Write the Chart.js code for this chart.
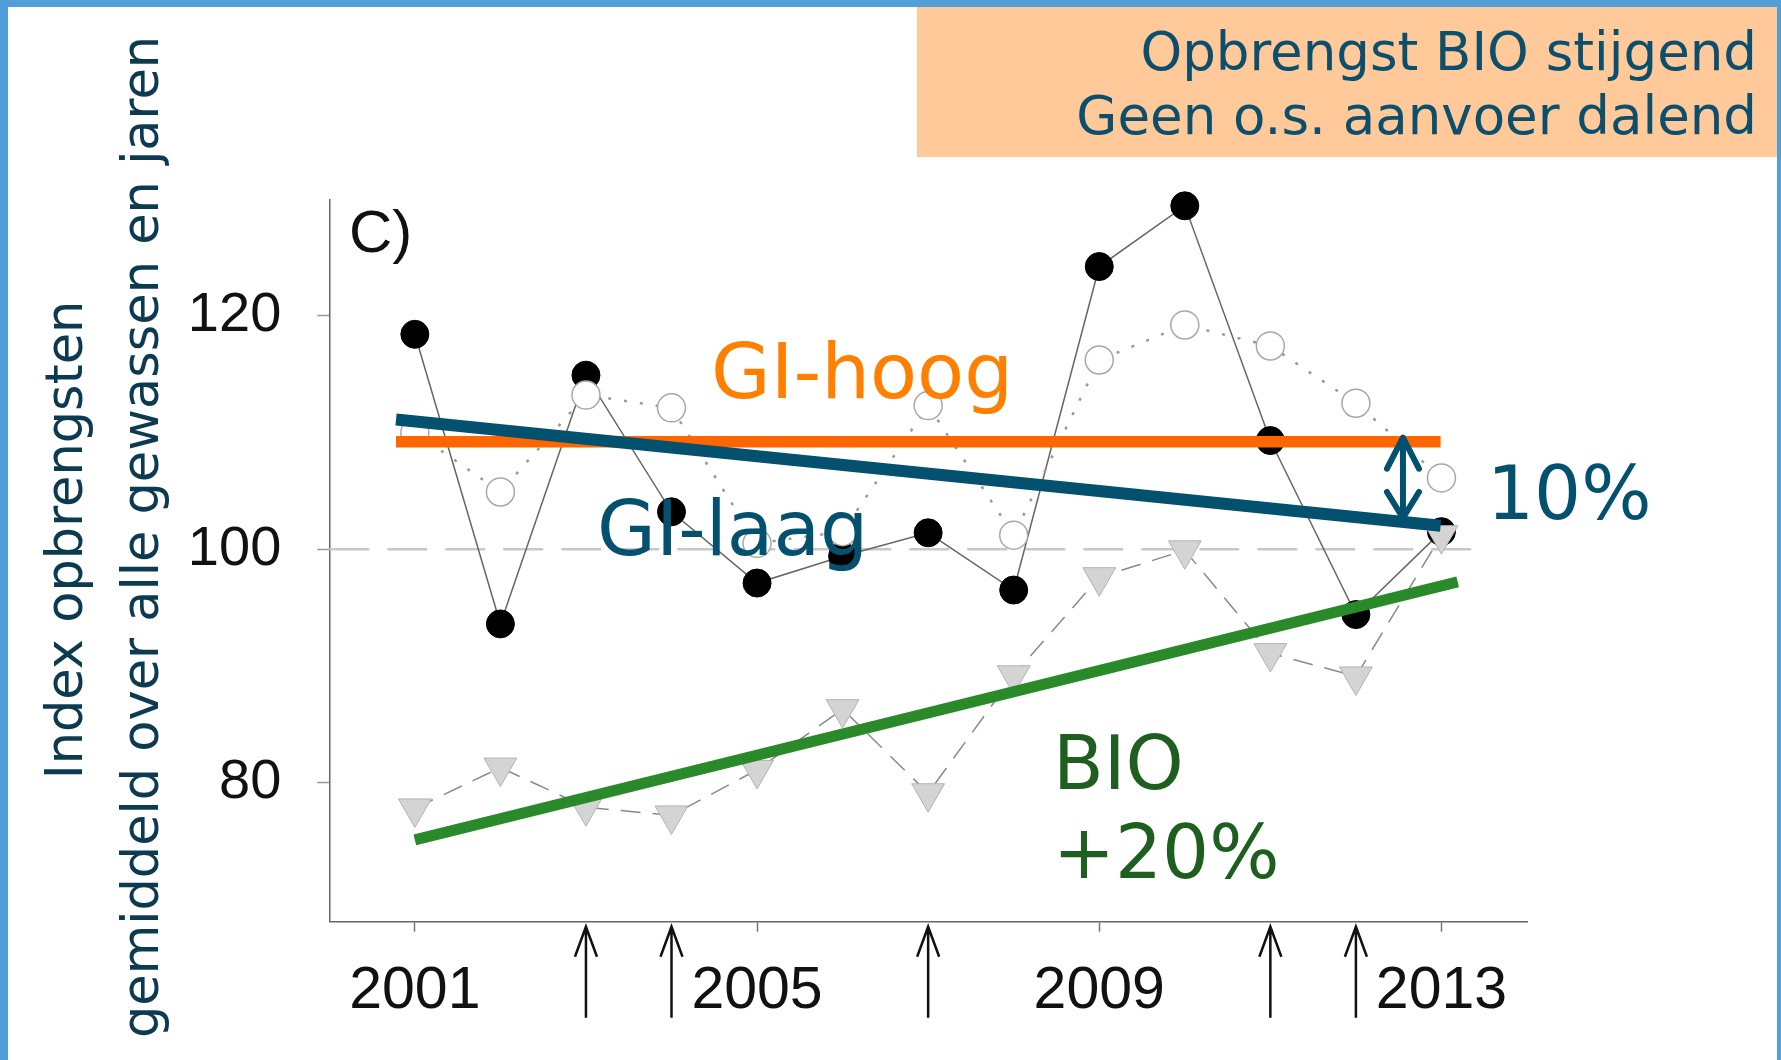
<!DOCTYPE html>
<html>
<head>
<meta charset="utf-8">
<script src="https://cdn.jsdelivr.net/npm/chart.js@4.4.0/dist/chart.umd.min.js"></script>
<style>
	html, body { margin: 0; padding: 0; background: #fff; }
	#wrap { width: 1781px; height: 1060px; position: relative; }
</style>
</head>
<body>
<div id="wrap"><canvas id="myChart"></canvas></div>
<script>
// jaren en waarden
const years = [2001, 2002, 2003, 2004, 2005, 2006, 2007, 2008, 2009, 2010, 2011, 2012, 2013];
const giHoogValues = [118.4, 93.6, 114.9, 103.2, 97.1, 99.4, 101.4, 96.5, 124.2, 129.4, 109.3, 94.4, 101.5];
const giLaagValues = [110.0, 104.9, 113.2, 112.1, 100.5, 101.5, 112.3, 101.2, 116.2, 119.2, 117.4, 112.5, 106.1];
const bioValues = [77.8, 81.3, 77.9, 77.2, 81.1, 86.3, 79.1, 89.2, 97.6, 99.9, 91.1, 89.1, 101.2];

// trendlijnen (begin- en eindpunt)
const hoogTrendX = [2000.78, 2012.99];
const hoogTrendY = [109.2, 109.2];
const laagTrendX = [2000.78, 2012.99];
const laagTrendY = [111.1, 102.0];
const bioTrendX = [2001.0, 2013.19];
const bioTrendY = [75.1, 97.2];
const refLineX = [2000, 2013.55];
const refLineY = [100, 100];

const xTicks = [2001, 2005, 2009, 2013];
const yTicks = [80, 100, 120];
const arrowYears = [2003, 2004, 2007, 2011, 2012];
const gapYear = 2012.55;

const toXY = (xs, ys) => xs.map((x, i) => ({ x, y: ys[i] }));

const decorPlugin = {
	id: "decor",
	beforeDraw(chart) {
		const c = chart.ctx;
		c.save();
		// blauwe rand
		c.fillStyle = "#509fd9";
		c.fillRect(0, 0, 1781, 7);
		c.fillRect(0, 0, 8, 1060);
		c.fillRect(1777, 0, 4, 1060);
		// oranje kader
		c.fillStyle = "#ffc999";
		c.fillRect(917, 7, 860, 150);
		c.fillStyle = "#0b4f6c";
		c.font = "53px 'DejaVu Sans'";
		c.textAlign = "right";
		c.textBaseline = "alphabetic";
		c.fillText("Opbrengst BIO stijgend", 1757, 70);
		c.fillText("Geen o.s. aanvoer dalend", 1757, 134);
		// as-titel
		c.fillStyle = "#0c3a50";
		c.font = "51px 'DejaVu Sans'";
		c.textAlign = "center";
		c.translate(82, 540);
		c.rotate(-Math.PI / 2);
		c.fillText("Index opbrengsten", 0, 0);
		c.restore();
		c.save();
		c.fillStyle = "#0c3a50";
		c.font = "51px 'DejaVu Sans'";
		c.textAlign = "center";
		c.translate(158, 537);
		c.rotate(-Math.PI / 2);
		c.fillText("gemiddeld over alle gewassen en jaren", 0, 0);
		c.restore();
	},
	afterDraw(chart) {
		const c = chart.ctx;
		const xs = chart.scales.x;
		const ys = chart.scales.y;
		c.save();
		c.fillStyle = "#111";
		c.font = "60px 'Liberation Sans'";
		c.textAlign = "left";
		c.fillText("C)", 349, 252);

		// pijlen onder de as
		c.strokeStyle = "#111";
		c.lineWidth = 2.5;
		const yb = ys.bottom;
		arrowYears.forEach((yr) => {
			const px = xs.getPixelForValue(yr);
			c.beginPath();
			c.moveTo(px, yb + 96);
			c.lineTo(px, yb + 5);
			c.moveTo(px - 11, yb + 35);
			c.lineTo(px, yb + 5);
			c.lineTo(px + 11, yb + 35);
			c.stroke();
		});

		// dubbele pijl tussen GI-hoog en GI-laag
		const ax = xs.getPixelForValue(gapYear);
		const t = (gapYear - laagTrendX[0]) / (laagTrendX[1] - laagTrendX[0]);
		const laagAt = laagTrendY[0] + t * (laagTrendY[1] - laagTrendY[0]);
		const yTop = ys.getPixelForValue(hoogTrendY[0]) - 4;
		const yBot = ys.getPixelForValue(laagAt) - 4;
		c.strokeStyle = "#03506f";
		c.lineWidth = 6;
		c.lineCap = "round";
		c.lineJoin = "round";
		c.beginPath();
		c.moveTo(ax, yTop);
		c.lineTo(ax, yBot);
		c.moveTo(ax - 16, yTop + 31);
		c.lineTo(ax, yTop);
		c.lineTo(ax + 16, yTop + 31);
		c.moveTo(ax - 16, yBot - 26);
		c.lineTo(ax, yBot);
		c.lineTo(ax + 16, yBot - 26);
		c.stroke();

		// labels
		c.textAlign = "left";
		c.textBaseline = "alphabetic";
		c.font = "77px 'DejaVu Sans'";
		c.fillStyle = "#ff7f00";
		c.fillText("GI-hoog", 711, 398);
		c.fillStyle = "#03506f";
		c.font = "76px 'DejaVu Sans'";
		c.fillText("GI-laag", 597, 555);
		c.font = "74px 'DejaVu Sans'";
		c.fillText("10%", 1487, 519);
		c.fillStyle = "#1e5e1e";
		c.fillText("BIO", 1053, 789);
		c.fillText("+20%", 1053, 878);
		c.restore();
	},
};

const ctx = document.getElementById("myChart");

new Chart(ctx, {
	type: "line",
	data: {
		datasets: [
			{
				label: "BIO trend",
				data: toXY(bioTrendX, bioTrendY),
				borderColor: "#2a8a2a",
				borderWidth: 11,
				borderCapStyle: "butt",
				pointRadius: 0,
				order: 1,
			},
			{
				label: "GI-laag trend",
				data: toXY(laagTrendX, laagTrendY),
				borderColor: "#03506f",
				borderWidth: 12,
				borderCapStyle: "butt",
				pointRadius: 0,
				order: 2,
			},
			{
				label: "GI-hoog trend",
				data: toXY(hoogTrendX, hoogTrendY),
				borderColor: "#ff6600",
				borderWidth: 11.5,
				borderCapStyle: "butt",
				pointRadius: 0,
				order: 3,
			},
			{
				label: "BIO",
				data: toXY(years, bioValues),
				borderColor: "#8a8a8a",
				borderWidth: 1.5,
				borderDash: [20, 12],
				pointStyle: "triangle",
				pointRotation: 180,
				pointRadius: 19,
				pointBackgroundColor: "#d4d4d4",
				pointBorderColor: "#b3b3b3",
				pointBorderWidth: 1,
				order: 4,
			},
			{
				label: "GI-laag",
				data: toXY(years, giLaagValues),
				borderColor: "#9a9a9a",
				borderWidth: 2.5,
				borderDash: [3, 13],
				pointStyle: "circle",
				pointRadius: 14,
				pointBackgroundColor: "#fff",
				pointBorderColor: "#a8a8a8",
				pointBorderWidth: 1.5,
				order: 5,
			},
			{
				label: "GI-hoog",
				data: toXY(years, giHoogValues),
				borderColor: "#666",
				borderWidth: 1.5,
				pointStyle: "circle",
				pointRadius: 14,
				pointBackgroundColor: "#000",
				pointBorderColor: "#000",
				pointBorderWidth: 1,
				order: 6,
			},
			{
				label: "100",
				data: toXY(refLineX, refLineY),
				borderColor: "#c8c8c8",
				borderWidth: 2.5,
				borderDash: [40, 18],
				pointRadius: 0,
				order: 7,
			},
		],
	},
	options: {
		responsive: true,
		maintainAspectRatio: false,
		animation: false,
		events: [],
		datasets: { line: { tension: 0, fill: false, clip: false } },
		layout: { padding: { left: 0, right: 254, top: 200, bottom: 0 } },
		plugins: {
			legend: { display: false },
			tooltip: { enabled: false },
		},
		scales: {
			x: {
				type: "linear",
				min: 2000,
				max: 2014,
				afterBuildTicks: (s) => {
					s.ticks = xTicks.map((v) => ({ value: v }));
				},
				afterFit: (s) => {
					s.height = 138.3;
				},
				grid: {
					drawOnChartArea: false,
					drawTicks: true,
					tickLength: 10,
					tickColor: "#777",
					tickWidth: 1.5,
				},
				border: { display: true, color: "#666", width: 1.5 },
				ticks: {
					color: "#111",
					font: { family: "'Liberation Sans'", size: 59 },
					padding: 25,
					maxRotation: 0,
					autoSkip: false,
					callback: (v) => String(v),
				},
			},
			y: {
				type: "linear",
				min: 68.1,
				max: 129.9,
				afterBuildTicks: (s) => {
					s.ticks = yTicks.map((v) => ({ value: v }));
				},
				afterFit: (s) => {
					s.width = 329.3;
				},
				grid: {
					drawOnChartArea: false,
					drawTicks: true,
					tickLength: 12,
					tickColor: "#999",
					tickWidth: 1.5,
				},
				border: { display: true, color: "#666", width: 1.5 },
				ticks: {
					color: "#111",
					font: { family: "'Liberation Sans'", size: 56 },
					padding: 36,
					autoSkip: false,
					callback: (v) => String(v),
				},
			},
		},
	},
	plugins: [decorPlugin],
});
</script>
</body>
</html>
